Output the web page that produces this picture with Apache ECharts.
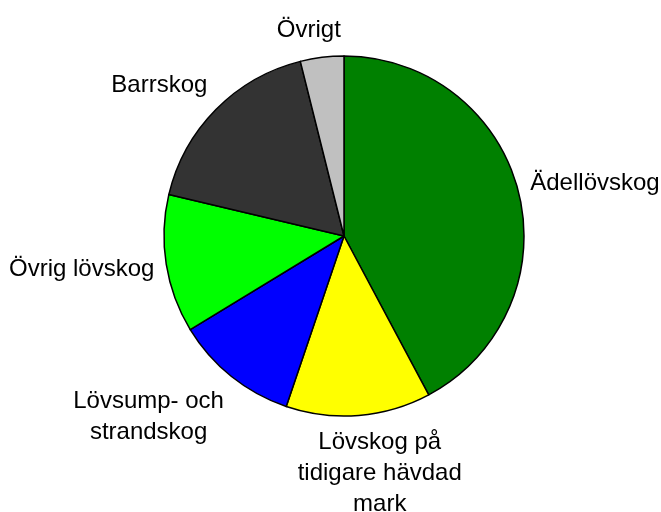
<!DOCTYPE html>
<html>
<head>
<meta charset="utf-8">
<script src="https://cdn.jsdelivr.net/npm/echarts@6/dist/echarts.min.js"></script>
<style>
    html, body { margin: 0; padding: 0; background: #fff; }
    #chart { width: 661px; height: 512px; }
</style>
</head>
<body>
<div id="chart"></div>
<script>
// andel per skogstyp (procent)
var categories = ['Ädellövskog', 'Lövskog på\ntidigare hävdad\nmark', 'Lövsump- och\nstrandskog', 'Övrig lövskog', 'Barrskog', 'Övrigt'];
var values = [42.2, 13.0, 11.1, 12.4, 17.4, 3.9];
var colors = ['#008000', '#ffff00', '#0000ff', '#00ff00', '#333333', '#c0c0c0'];

var CX = 344;
var CY = 236;
var R = 180;

var total = values.reduce(function (a, b) { return a + b; }, 0);

// mittvinkel för varje sektor, medurs från toppen (radianer)
function midAngle(index) {
    var before = 0;
    for (var i = 0; i < index; i++) {
        before += values[i];
    }
    return (before + values[index] / 2) / total * Math.PI * 2;
}

function clamp(v) {
    return Math.max(-1, Math.min(1, v));
}

var myChart = echarts.init(document.getElementById('chart'));

var pieData = categories.map(function (name, i) {
    return {
        name: name,
        value: values[i],
        itemStyle: { color: colors[i] }
    };
});

var option = {
    animation: false,
    backgroundColor: '#ffffff',
    series: [{
        type: 'pie',
        center: [CX, CY],
        radius: [0, R],
        startAngle: 90,
        clockwise: true,
        avoidLabelOverlap: false,
        data: pieData,
        itemStyle: {
            borderColor: '#000000',
            borderWidth: 1.5
        },
        label: {
            show: true,
            position: 'outside',
            color: '#000000',
            fontFamily: 'Liberation Sans',
            fontSize: 24,
            lineHeight: 31,
            formatter: '{b}'
        },
        labelLine: { show: false },
        // etiketten läggs utanför sektorns mitt, som i Excel
        labelLayout: function (params) {
            var a = midAngle(params.dataIndex);
            var s = Math.sin(a);
            var c = Math.cos(a);
            var gap = R + 12;
            var ax = CX + s * gap;
            var ay = CY - c * gap;
            var w = params.labelRect.width;
            var h = params.labelRect.height;
            return {
                x: ax + clamp(s * 3) * w / 2,
                y: ay - clamp(c * 1.5) * h / 2,
                align: 'center',
                verticalAlign: 'middle'
            };
        }
    }]
};
myChart.setOption(option);
</script>
</body>
</html>
